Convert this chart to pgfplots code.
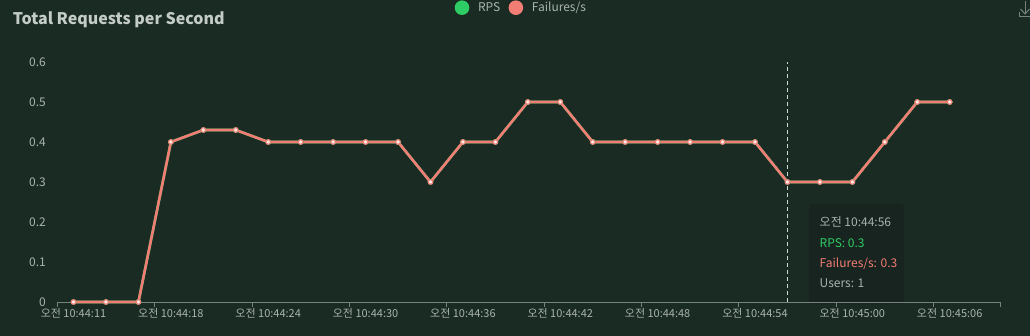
\documentclass[border=0pt]{standalone}
\usepackage{fontspec}
\setmainfont{Noto Sans CJK KR}
\usepackage{pgfplots}
\pgfplotsset{compat=1.18}
\definecolor{bg}{HTML}{1A2B24}
\definecolor{tipbg}{HTML}{17241F}
\definecolor{axgrey}{HTML}{75857E}
\definecolor{lblgrey}{HTML}{A9B3AE}
\definecolor{titlegrey}{HTML}{C4CCC8}
\definecolor{rpsgreen}{HTML}{2ECC64}
\definecolor{failred}{HTML}{F27D74}
\begin{document}
\begin{tikzpicture}[x=1pt,y=1pt]
\fill[bg] (0,0) rectangle (1030,336);
\node[anchor=base west, text=titlegrey, font=\fontsize{16}{19}\selectfont\bfseries, inner sep=0pt] at (12.6,311.5) {Total Requests per Second};
% download icon
\draw[axgrey, line width=1pt] (1025,335) -- (1025,322);
\draw[axgrey, line width=1pt] (1020.5,327) -- (1025,322) -- (1029.5,327);
\draw[axgrey, line width=1pt] (1019.5,324) -- (1019.5,319.5) -- (1030,319.5);
% tooltip
\fill[tipbg, rounded corners=4pt] (809,31.5) rectangle (904,132.2);
\begin{axis}[
  at={(57.3pt,34pt)}, anchor=south west, scale only axis,
  width=942.7pt, height=240pt,
  xmin=12, xmax=70.1, ymin=0, ymax=0.6,
  clip=false,
  axis lines=left,
  axis line style={-},
  x axis line style={draw=axgrey, line width=0.8pt},
  y axis line style={draw=none},
  xtick={12,18,24,30,36,42,48,54,60,66},
  xticklabels={오전 10:44:11, 오전 10:44:18, 오전 10:44:24, 오전 10:44:30, 오전 10:44:36, 오전 10:44:42, 오전 10:44:48, 오전 10:44:54, 오전 10:45:00, 오전 10:45:06},
  extra x ticks={70.1}, extra x tick labels={},
  ytick={0,0.1,0.2,0.3,0.4,0.5,0.6},
  yticklabels={0,0.1,0.2,0.3,0.4,0.5,0.6},
  xtick align=outside, major tick length=5pt,
  x tick style={draw=axgrey, line width=0.8pt},
  y tick style={draw=none},
  tick label style={text=lblgrey, font=\fontsize{12}{14}\selectfont},
  xticklabel style={inner sep=0pt, yshift=-1.5pt, xshift=16.2pt, font=\fontsize{11}{13}\selectfont},
  yticklabel style={inner sep=0pt, xshift=-8.7pt},
  legend style={at={(0.4216,1.2263)}, anchor=west, draw=none, fill=none,
    inner sep=0pt, outer sep=0pt, legend columns=2, text=lblgrey,
    font=\fontsize{12}{14}\selectfont,
    /tikz/every even column/.append style={column sep=6.3pt}},
  legend image code/.code={\fill[#1, draw=none] (7.3pt,0pt) circle (7.3pt); \path[draw=none, fill=none] (0pt,0pt) -- (21.3pt,0pt);},
]
\draw[dashed, dash pattern=on 4pt off 3pt, white!80!bg, line width=0.8pt] (axis cs:57,0) -- (axis cs:57,0.6);
\addplot[rpsgreen, line width=2.6pt, mark=*, mark size=2.3pt, mark options={fill=white!85!rpsgreen, draw=rpsgreen, line width=1.1pt}] coordinates {
(13,0) (15,0) (17,0) (19,0.4) (21,0.43) (23,0.43) (25,0.4) (27,0.4) (29,0.4) (31,0.4) (33,0.4) (35,0.3) (37,0.4) (39,0.4) (41,0.5) (43,0.5) (45,0.4) (47,0.4) (49,0.4) (51,0.4) (53,0.4) (55,0.4) (57,0.3) (59,0.3) (61,0.3) (63,0.4) (65,0.5) (67,0.5)
};
\addlegendentry{RPS}
\addplot[failred, line width=2.6pt, mark=*, mark size=2.3pt, mark options={fill=white!85!failred, draw=failred, line width=1.1pt}] coordinates {
(13,0) (15,0) (17,0) (19,0.4) (21,0.43) (23,0.43) (25,0.4) (27,0.4) (29,0.4) (31,0.4) (33,0.4) (35,0.3) (37,0.4) (39,0.4) (41,0.5) (43,0.5) (45,0.4) (47,0.4) (49,0.4) (51,0.4) (53,0.4) (55,0.4) (57,0.3) (59,0.3) (61,0.3) (63,0.4) (65,0.5) (67,0.5)
};
\addlegendentry{Failures/s}
\end{axis}
\node[anchor=mid west, inner sep=0pt, text=lblgrey, font=\fontsize{12}{14}\selectfont] at (819.5,112) {오전 10:44:56};
\node[anchor=mid west, inner sep=0pt, text=rpsgreen, font=\fontsize{12}{14}\selectfont] at (819.5,91.6) {RPS: 0.3};
\node[anchor=mid west, inner sep=0pt, text=failred, font=\fontsize{12}{14}\selectfont] at (819.5,71.3) {Failures/s: 0.3};
\node[anchor=mid west, inner sep=0pt, text=lblgrey, font=\fontsize{12}{14}\selectfont] at (819.5,51) {Users: 1};
\pgfresetboundingbox
\useasboundingbox (0,0) rectangle (1030,336);
\end{tikzpicture}
\end{document}
